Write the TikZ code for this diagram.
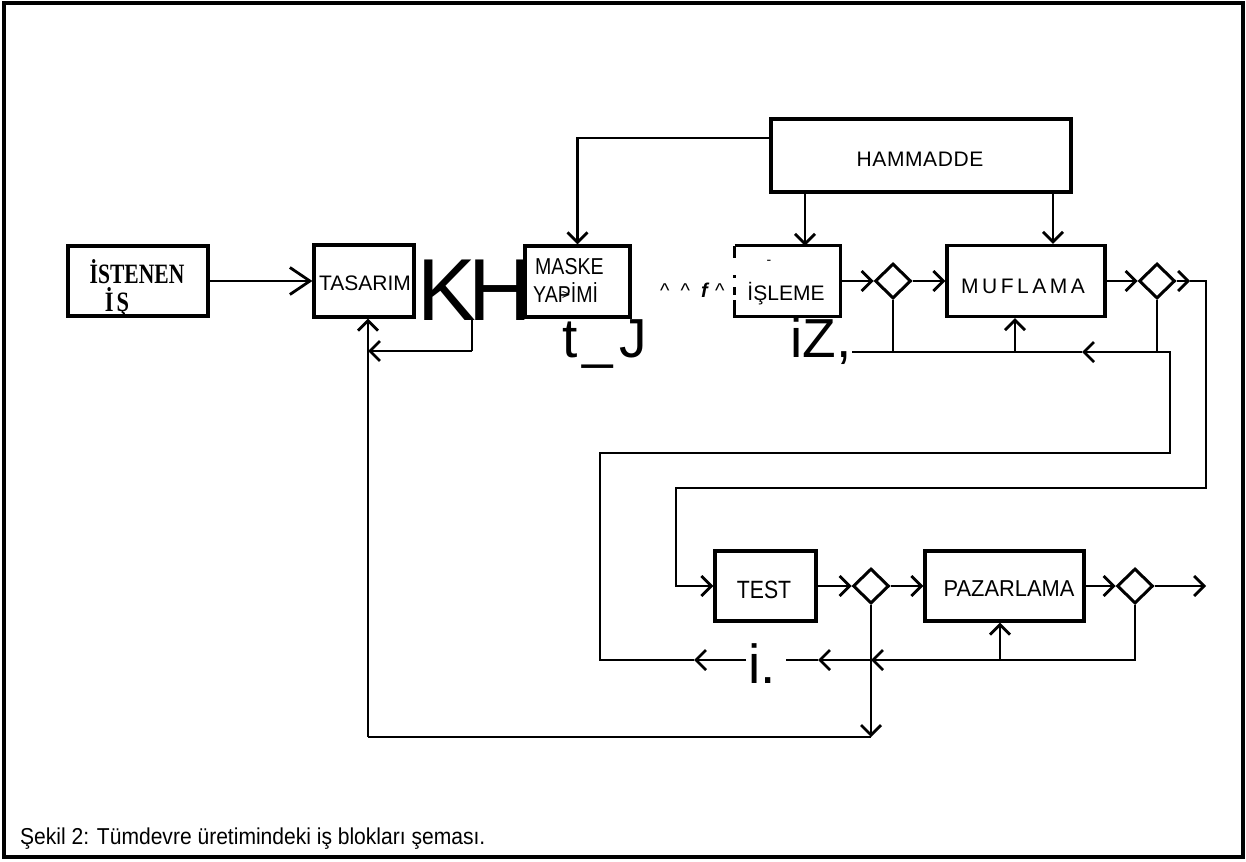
\documentclass[tikz,border=0pt]{standalone}
\usepackage{fontspec}
\setmainfont{Liberation Sans}
\newfontfamily\serifB{Liberation Serif}
\usetikzlibrary{arrows.meta,shapes.geometric}
\begin{document}
\begin{tikzpicture}[x=1pt,y=-1pt,
  box/.style={draw, line width=3.2pt, inner sep=0pt},
  dia/.style={draw, diamond, line width=3pt, minimum width=36pt, minimum height=35pt, inner sep=0pt},
  ln/.style={line width=2.8pt},
  arr/.style={ln, -{Straight Barb[length=10pt,width=20pt]}},
  lab/.style={font=\fontsize{21}{24}\selectfont, inner sep=0pt},
  big/.style={font=\fontsize{88}{90}\selectfont, inner sep=0pt, anchor=base west},
  midtxt/.style={font=\fontsize{55}{60}\selectfont, inner sep=0pt, anchor=base west},
  tiny/.style={font=\fontsize{20}{20}\selectfont, inner sep=0pt, anchor=base west},
]
\useasboundingbox (0,0) rectangle (1246,861);
\draw[line width=3.5pt] (4,3) rectangle (1243,857);

% boxes
\node[box, minimum width=140pt, minimum height=70pt] (ist) at (138,281) {};
\node[font=\serifB\bfseries\fontsize{28}{30}\selectfont, inner sep=0pt] (istA) at (137,272) {\scalebox{0.77}[1]{İSTENEN}};
\node[font=\serifB\bfseries\fontsize{28}{30}\selectfont, inner sep=0pt] (istB) at (117,302) {\scalebox{0.8}[1]{İ\kern4pt Ş}};

\node[box, minimum width=100pt, minimum height=72pt] (tas) at (364,281) {};
\node[lab] (tasT) at (365,283) {TASARIM};

\node[box, minimum width=105pt, minimum height=71pt] (mas) at (577.5,281.5) {};
\node[lab, font=\fontsize{23}{24}\selectfont, anchor=west] (masA) at (535,267) {\scalebox{0.85}[1]{MASKE}};
\node[lab, font=\fontsize{23}{24}\selectfont, anchor=west] (masB) at (533,293) {\scalebox{0.85}[1]{YAPİMİ}};
\node[font=\fontsize{14}{14}\selectfont, inner sep=0pt] (masC) at (566,295) {>};

\node[minimum width=105pt, minimum height=70pt, inner sep=0pt] (isl) at (787.5,281) {};
\draw[line width=3.2pt] (isl.north west) -- (isl.north east) -- (isl.south east) -- (isl.south west) -- ++(0,-16);
\draw[line width=3.2pt] (isl.north west) -- ++(0,12);
\draw[line width=3.2pt] (isl.west) ++(0,-6) -- ++(0,3);
\draw[line width=3.2pt] (isl.west) ++(0,6) -- ++(0,8);
\node[lab] (islT) at (786,294) {İŞLEME};

\node[box, minimum width=300pt, minimum height=73pt] (ham) at (921,155.5) {};
\node[lab] (hamT) at (920,159) {H\kern0.6pt A\kern0.6pt M\kern0.6pt M\kern0.6pt A\kern0.6pt D\kern0.6pt D\kern0.6pt E};

\node[box, minimum width=158pt, minimum height=71pt] (muf) at (1026,281) {};
\node[lab] (mufT) at (1023,286) {M\kern3.5pt U\kern3.5pt F\kern3.5pt L\kern3.5pt A\kern3.5pt M\kern3.5pt A};

\node[box, minimum width=101pt, minimum height=70pt] (test) at (765.5,586) {};
\node[lab, font=\fontsize{25}{26}\selectfont] (testT) at (764,590) {\scalebox{0.85}[1]{TEST}};

\node[box, minimum width=159pt, minimum height=70pt] (paz) at (1004.5,586) {};
\node[lab, font=\fontsize{23}{24}\selectfont] (pazT) at (1009,589) {\scalebox{0.95}[1]{PAZARLAMA}};

% diamonds
\node[dia] (d1) at (893,281) {};
\node[dia] (d2) at (1157,281) {};
\node[dia] (d3) at (871,586) {};
\node[dia] (d4) at (1135,586) {};

% OCR artefacts printed in the picture
\node[big] (artK) at (417,320) {K};
\node[big] (artH) at (468,320) {H};
\node[midtxt] (artT) at (562,357) {t\kern5pt\_\kern6pt J};
\node[midtxt] (artZ) at (790,357) {iZ,};
\node[midtxt] (artI) at (748,683) {i.};
\node[tiny] (artC) at (660,297) {\textasciicircum\ \ \textasciicircum\ \ \textbf{\textit{f}}\ \textasciicircum};
\node[font=\fontsize{14}{14}\selectfont, inner sep=0pt] (artD) at (769,262) {-};

% coordinates
\coordinate (h1) at (772,138);
\coordinate (h2) at (805,192);
\coordinate (h3) at (1053,192);
\coordinate (r1) at (1190,281);
\coordinate (r2) at (1206,281);
\coordinate (r3) at (1206,488);
\coordinate (r4) at (676,488);
\coordinate (p1) at (1135,660);
\coordinate (p2) at (1000,660);
\coordinate (p3) at (871,660);
\coordinate (p4) at (818,660);
\coordinate (p5) at (786,660);
\coordinate (p6) at (746,660);
\coordinate (p7) at (694,660);
\coordinate (L660) at (600,660);
\coordinate (L453) at (600,453);
\coordinate (R453) at (1170,453);
\coordinate (R352) at (1170,352);
\coordinate (q0) at (1157,352);
\coordinate (q1) at (1082,352);
\coordinate (q2) at (1015,352);
\coordinate (q4) at (893,352);
\coordinate (q3) at (852,352);
\coordinate (k1) at (472,318);
\coordinate (k2) at (472,351);
\coordinate (t1) at (368,351);
\coordinate (t2) at (368,737);
\coordinate (t3) at (871,737);
\coordinate (o1) at (1206,586);

% connectors
\draw[ln, -{Straight Barb[length=20pt,width=27pt]}] (ist) -- (tas);
\draw[arr] (h1) -| (mas.north);
\draw[arr] (h2) -- (h2 |- isl.north);
\draw[arr] (h3) -- (h3 |- muf.north);
\draw[arr] (isl.east) -- (d1.west);
\draw[arr] (d1.east) -- (muf.west);
\draw[arr] (muf.east) -- (d2.west);
\draw[arr] (d2.east) -- (r1);
\draw[arr] (r1) -- (r2) -- (r3) -- (r4) |- (test.west);
\draw[arr] (test.east) -- (d3.west);
\draw[arr] (d3.east) -- (paz.west);
\draw[arr] (paz.east) -- (d4.west);
\draw[arr] (d4.east) -- (o1);

\draw[ln] (d4.south) -- (p1) -- (p2);
\draw[arr] (p2) -- (p2 |- paz.south);
\draw[arr] (p2) -- (p3);
\draw[arr] (p3) -- (p4);
\draw[ln] (p4) -- (p5);
\draw[arr] (p6) -- (p7);
\draw[ln] (p7) -- (L660) -- (L453) -- (R453) -- (R352) -- (q0);
\draw[ln] (d2.south) -- (q0);
\draw[arr] (q0) -- (q1);
\draw[ln] (q1) -- (q2) -- (q4) -- (q3);
\draw[arr] (q2) -- (q2 |- muf.south);
\draw[ln] (d1.south) -- (q4);

\draw[ln] (k1) -- (k2);
\draw[arr] (k2) -- (t1);
\draw[arr] (d3.south) -- (t3);
\draw[ln] (t3) -- (t2);
\draw[arr] (t2) -- (t2 |- tas.south);

\node[lab, font=\fontsize{23}{24}\selectfont, anchor=base west] (cap) at (20,844) {\scalebox{0.915}[1]{Şekil 2: Tümdevre üretimindeki iş blokları şeması.}};
\end{tikzpicture}
\end{document}
